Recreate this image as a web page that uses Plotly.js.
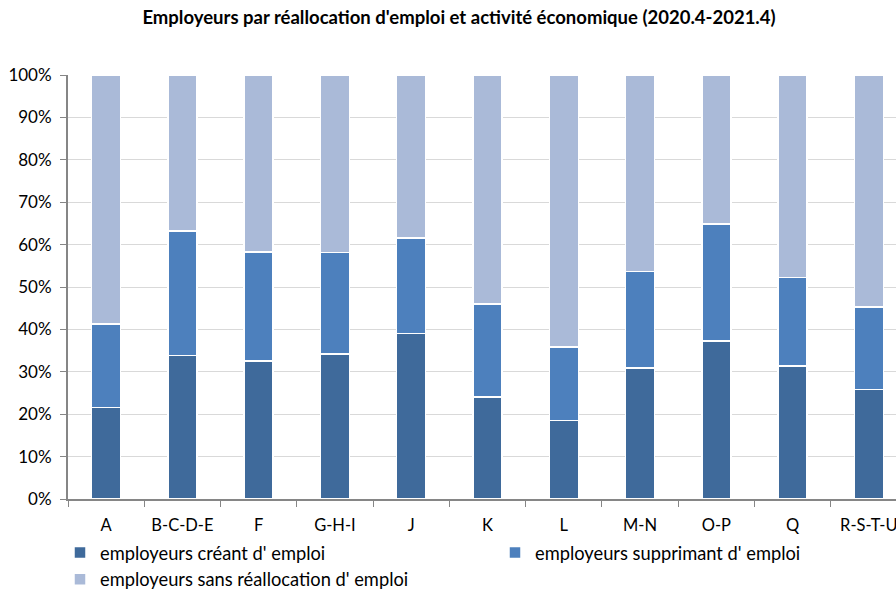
<!DOCTYPE html>
<html><head><meta charset="utf-8">
<script src="https://cdn.plot.ly/plotly-3.0.1.min.js"></script>
<style>html,body{margin:0;padding:0;overflow:hidden;background:#fff}#chart{width:960px;height:591px}</style>
</head><body><div id="chart"></div>
<script>
const categories = ["A","B-C-D-E","F","G-H-I","J","K","L","M-N","O-P","Q","R-S-T-U"];
const creant = [21.6,33.8,32.5,34.2,39.0,24.1,18.5,30.9,37.3,31.4,25.8];
const supprimantTop = [41.3,63.2,58.2,58.1,61.6,46.0,35.9,53.6,64.9,52.2,45.3];
const supprimant = supprimantTop.map((t,i)=>+(t-creant[i]).toFixed(1));
const sans = supprimantTop.map(t=>+(100-t).toFixed(1));
const seriesNames = ["employeurs créant d' emploi","employeurs supprimant d' emploi","employeurs sans réallocation d' emploi"];
const colors = ["#3F6A9B","#4D80BD","#AABAD8"];
const legendIds = ["legend","legend2","legend"];
const vals = [creant, supprimant, sans];
const traces = vals.map((v,i)=>({
  type:'bar', x:categories, y:v.map(d=>d/100), name:seriesNames[i], legend:legendIds[i],
  marker:{color:colors[i], line:{color:'#ffffff', width:1.5}},
  hoverinfo:'skip'
}));
const W = 960;
const font = "Lato, 'Open Sans', sans-serif";
const legendBase = {orientation:'h', xref:'container', xanchor:'left', yref:'container', y:1-534/591, yanchor:'top', traceorder:'normal',
    entrywidth:392, font:{size:18.3}, itemwidth:20, tracegroupgap:0, bgcolor:'rgba(0,0,0,0)'};
const layout = {
  width:W, height:591,
  margin:{l:68, r:W-68-839, t:75, b:92},
  barmode:'stack', bargap:0.62,
  paper_bgcolor:'#fff', plot_bgcolor:'#fff',
  font:{family:font, size:16, color:'#000'},
  title:{text:"<b>Employeurs par réallocation d'emploi et activité économique (2020.4-2021.4)</b>", x:459/W, xref:'container', xanchor:'center', y:1-18/591, yref:'container', yanchor:'middle', font:{family:font, size:18.5, color:'#000'}},
  xaxis:{type:'category', range:[-0.5,10.5], tickson:'boundaries', ticks:'outside', ticklen:6, tickcolor:'#868686',
    showline:true, linecolor:'#868686', linewidth:2, showgrid:false, tickfont:{size:16.5}, ticklabelstandoff:10, automargin:false},
  yaxis:{range:[0,1], tickformat:'.0%', dtick:0.1, ticks:'outside', ticklen:6, tickcolor:'#868686',
    showline:true, linecolor:'#868686', linewidth:2, gridcolor:'#D9D9D9', gridwidth:1, tickfont:{size:17}, zeroline:false, ticklabelstandoff:5, automargin:false},
  showlegend:true,
  legend:Object.assign({}, legendBase, {x:60/W}),
  legend2:Object.assign({}, legendBase, {x:495/W, entrywidth:300})
};
Plotly.newPlot('chart', traces, layout, {displayModeBar:false, staticPlot:true});
</script></body></html>
